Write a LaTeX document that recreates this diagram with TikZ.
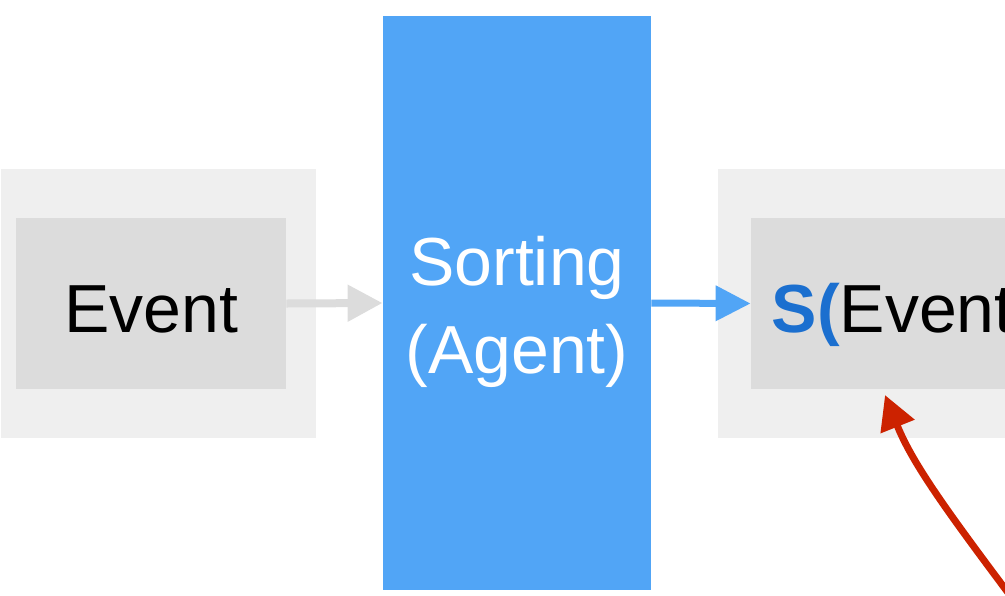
\documentclass[tikz,border=0pt]{standalone}
\usepackage{fontspec}
\setmainfont{Liberation Sans}
\usepackage{xcolor}
\usepackage{tikz}
\usetikzlibrary{positioning, arrows.meta}

\definecolor{outergray}{HTML}{EFEFEF}
\definecolor{innergray}{HTML}{DCDCDC}
\definecolor{agentblue}{HTML}{51A5F6}
\definecolor{sblue}{HTML}{1B6FCF}
\definecolor{feedred}{HTML}{CC2200}

\begin{document}
\begin{tikzpicture}[x=0.5pt, y=-0.5pt,
  outerbox/.style={fill=outergray, inner sep=0pt, minimum width=157.5pt, minimum height=134.5pt},
  innerbox/.style={fill=innergray, inner sep=0pt, minimum width=135pt, minimum height=85.5pt, text height=29pt, text depth=0pt, font=\fontsize{34}{40}\selectfont},
  agentbox/.style={fill=agentblue, inner sep=0pt, minimum width=134pt, minimum height=287pt},
  agenttext/.style={text=white, inner sep=0pt, align=center, font=\fontsize{34}{44}\selectfont}]
\useasboundingbox (0,0) rectangle (1005,595);
\clip (0,0) rectangle (1005,595);
\begin{scope}
\node[outerbox] (inbg) at (158.5,303.5) {};
\node[innerbox] (event) at (151,303.5) {Event};
\end{scope}
\node[agentbox] (agent) at (517,303) {};
\node[agenttext, yshift=-4.25pt] (agentlabel) at (agent.center) {Sorting\\(Agent)};
\begin{scope}
\node[outerbox, minimum width=186pt] (outbg) at (904,303.5) {};
\node[innerbox, minimum width=153pt] (sevent) at (904,303.5) {\textcolor{sblue}{\textbf{S(}}Event)};
\end{scope}
\draw[innergray, line width=4pt, -{Triangle[length=17.5pt, width=17.5pt]}] (event.east) -- (agent.west);
\draw[agentblue, line width=3.5pt, -{Triangle[length=17.5pt, width=17pt]}] (agent.east) -- (sevent.west);
\coordinate (feedstart) at (1012,598);
\coordinate (feedend) at (885,395);
\draw[feedred, line width=3.5pt, -{Triangle[length=17pt, width=17.5pt]}] (feedstart) .. controls (950,515) and (913,465) .. (feedend);
\end{tikzpicture}
\end{document}
